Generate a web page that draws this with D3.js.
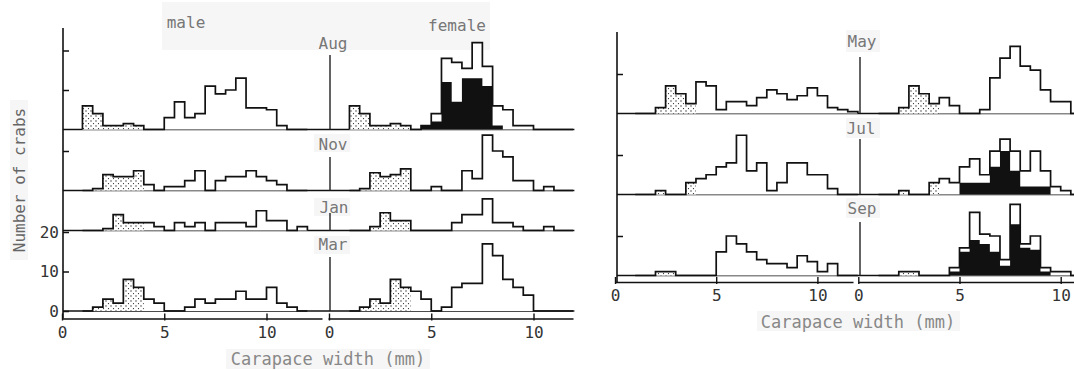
<!DOCTYPE html>
<html>
<head>
<meta charset="utf-8">
<script src="https://cdn.jsdelivr.net/npm/d3@7"></script>
<style>
  body { margin: 0; background: #fff; }
  svg { display: block; }
  text { font-family: "DejaVu Sans Mono", "Liberation Mono", monospace; }
</style>
</head>
<body>
<svg id="chart" width="1074" height="370"></svg>
<script>
// Size classes: 0.5 mm carapace-width classes, the first one 1.0-1.5 mm
const binStart = 1.0;
const binWidth = 0.5;

const xTicks = [0, 5, 10];
const yTicks = [0, 10, 20];
const sexes = ["male", "female"];
const leftMonths = ["Aug", "Nov", "Jan", "Mar"];
const rightMonths = ["May", "Jul", "Sep"];

// Number of crabs per class: all crabs, stippled part, solid black part
const augMale        = [6,4,1,1,1.5,1, 0,0, 3,7,3,4,11,9,10,13,5.5,5.5,5,1, 0,0];
const augMaleDots    = [6,4,1,1,1.5,1, 0,0, 0,0,0,0,0,0,0,0,0,0,0,0, 0,0];
const augFemale      = [6,4,1,1,1.5,1, 0,1, 4,18,17,15.5,22,16,6,5,1,1,0,0, 0,0];
const augFemaleDots  = [6,4,1,1,1.5,1, 0,0, 0,0,0,0,0,0,0,0,0,0,0,0, 0,0];
const augFemaleBlack = [0,0,0,0,0,0, 0,1, 2,12,7,13,13,11,1,0,0,0,0,0, 0,0];

const novMale        = [0,0.5,4,3.5,3.5,5, 1.5,0, 1,1,2.5,5,0,2.5,3.5,3.5,5,3.5,2.5,1.5, 0,0];
const novMaleDots    = [0,0.5,4,3.5,3.5,5, 0,0, 0,0,0,0,0,0,0,0,0,0,0,0, 0,0];
const novFemale      = [0,0.5,4.5,3.5,4,5.5, 0,0, 1,0,0,5,3,14,10,8.5,2.5,2.5,0,1, 0,0];
const novFemaleDots  = [0,0.5,4.5,3.5,4,5.5, 0,0, 0,0,0,0,0,0,0,0,0,0,0,0, 0,0];

const janMale        = [0,0,0.5,4,2,2, 2,1, 0,2,1,2,0,2,2,2,1,5,2.5,2.5, 0,1];
const janMaleDots    = [0,0,0.5,4,2,2, 0,0, 0,0,0,0,0,0,0,0,0,0,0,0, 0,0];
const janFemale      = [0,0,1,4.5,2.5,2.5, 0,0, 0,0,2,4,4,8,2,2,1,0,0,1, 0,0];
const janFemaleDots  = [0,0,1,4.5,2.5,2.5, 0,0, 0,0,0,0,0,0,0,0,0,0,0,0, 0,0];

const marMale        = [0,1,3,2,8,6, 3,2, 0,0,1,3,2,3,3,5,3,3,6,2, 1,0];
const marMaleDots    = [0,1,3,2,8,6, 0,0, 0,0,0,0,0,0,0,0,0,0,0,0, 0,0];
const marFemale      = [0,1,3,2,8,6, 5,3, 0,1,6,7,7,17,14,8,6,4,0,0, 0,0];
const marFemaleDots  = [0,1,3,2,8,6, 0,0, 0,0,0,0,0,0,0,0,0,0,0,0, 0,0];

const mayMale        = [0,0,1.5,7,5,2.5, 8,7, 1,3,3,2,4,6,5,3.5,4.5,6.5,4.5,1.5, 1,0.5];
const mayMaleDots    = [0,0,1.5,7,5,2.5, 0,0, 0,0,0,0,0,0,0,0,0,0,0,0, 0,0];
const mayFemale      = [0,0,1.5,7,5,2.5, 4,2, 0,0,1,9,14,17,12,11,6,3,3,0, 0,0];
const mayFemaleDots  = [0,0,1.5,7,5,2.5, 0,0, 0,0,0,0,0,0,0,0,0,0,0,0, 0,0];

const julMale        = [0,0,1,0,0,3, 4,5, 7,8,15,6,8,1,3,8,8,5,5,1.5, 0,0];
const julMaleDots    = [0,0,1,0,0,3, 0,0, 0,0,0,0,0,0,0,0,0,0,0,0, 0,0];
const julFemale      = [0,0,1,0,0,3, 4,3, 7,9,5,11,14,11,6,11,6,2,1,0, 0,0];
const julFemaleDots  = [0,0,1,0,0,3, 0,0, 0,0,0,0,0,0,0,0,0,0,0,0, 0,0];
const julFemaleBlack = [0,0,0,0,0,0, 0,0, 3,3,3,7,11,6,2,2,2,0,0,0, 0,0];

const sepMale        = [0,0,1,1,0,0, 0,0, 6,10,8,6,4,3,3,2,5,3.5,1,3, 0,0];
const sepMaleDots    = [0,0,1,1,0,0, 0,0, 0,0,0,0,0,0,0,0,0,0,0,0, 0,0];
const sepFemale      = [0,0,1,1,0,0, 0,2, 7,16,10.5,10,4,18,8,10,2,1,1,0, 0,0];
const sepFemaleDots  = [0,0,1,1,0,0, 0,0, 0,0,0,0,0,0,0,0,0,0,0,0, 0,0];
const sepFemaleBlack = [0,0,0,0,0,0, 0,1, 6,9,8,6,2.5,13,7,6.5,1,0,0,0, 0,0];

const svg = d3.select("#chart");

// stipple fill
const defs = svg.append("defs");
const pat = defs.append("pattern")
  .attr("id", "stipple").attr("patternUnits", "userSpaceOnUse")
  .attr("width", 5).attr("height", 5);
pat.append("rect").attr("width", 5).attr("height", 5).attr("fill", "#fff");
pat.append("circle").attr("cx", 1).attr("cy", 1).attr("r", 0.65).attr("fill", "#222");
pat.append("circle").attr("cx", 3.5).attr("cy", 3.6).attr("r", 0.6).attr("fill", "#222");

// faint paste-up patches behind the lettering
const patches = [
  [162, 2, 328, 48], [314, 134, 36, 18], [314, 198, 36, 18], [314, 236, 36, 18],
  [846, 30, 34, 22], [846, 118, 34, 20], [846, 198, 34, 20],
  [226, 349, 204, 20], [757, 311, 203, 20], [10, 100, 18, 160]
];
svg.append("g").selectAll("rect").data(patches).join("rect")
  .attr("x", d => d[0]).attr("y", d => d[1]).attr("width", d => d[2]).attr("height", d => d[3])
  .attr("fill", "#f6f6f6");

const pxPerCrab = 3.95;

// x scales (mm) for the two panels, male and female halves
const leftX = {
  male: d3.scaleLinear().domain([0, 10]).range([62, 266.5]),
  female: d3.scaleLinear().domain([0, 10]).range([329, 533.5])
};
const rightX = {
  male: d3.scaleLinear().domain([0, 10]).range([615, 817.4]),
  female: d3.scaleLinear().domain([0, 10]).range([858.3, 1060.7])
};

const rowY = base => d3.scaleLinear().domain([0, 10]).range([base, base - 10 * pxPerCrab]);

const leftRows = [
  { month: leftMonths[0], base: 129.5, series: [[augMale, augMaleDots, null], [augFemale, augFemaleDots, augFemaleBlack]], ticks: [10, 20], div: [55, 129.5], label: [333, 43] },
  { month: leftMonths[1], base: 190.5, series: [[novMale, novMaleDots, null], [novFemale, novFemaleDots, null]], ticks: [10], div: [157, 190.5], label: [333, 144] },
  { month: leftMonths[2], base: 230.5, series: [[janMale, janMaleDots, null], [janFemale, janFemaleDots, null]], ticks: [], div: [213, 230.5], label: [334, 207] },
  { month: leftMonths[3], base: 311, series: [[marMale, marMaleDots, null], [marFemale, marFemaleDots, null]], ticks: yTicks, div: [257, 311], label: [333, 244], labelled: true }
];
const rightRows = [
  { month: rightMonths[0], base: 113.5, series: [[mayMale, mayMaleDots, null], [mayFemale, mayFemaleDots, null]], ticks: [10], div: [57, 113.5], label: [862, 41] },
  { month: rightMonths[1], base: 194.5, series: [[julMale, julMaleDots, null], [julFemale, julFemaleDots, julFemaleBlack]], ticks: [10], div: [139, 194.5], label: [861, 128] },
  { month: rightMonths[2], base: 275.5, series: [[sepMale, sepMaleDots, null], [sepFemale, sepFemaleDots, sepFemaleBlack]], ticks: [10], div: [222, 275.5], label: [862, 208] }
];

const edge = i => binStart + i * binWidth;
function stepPoints(vals) {
  const pts = [{ e: edge(0), v: 0 }];
  vals.forEach((v, i) => pts.push({ e: edge(i), v }));
  pts.push({ e: edge(vals.length), v: 0 });
  return pts;
}

function drawHist(g, x, y, total, dots, black) {
  const area = d3.area().curve(d3.curveStepAfter)
    .x(d => x(d.e)).y0(y(0)).y1(d => y(d.v));
  const line = d3.line().curve(d3.curveStepAfter)
    .x(d => x(d.e)).y(d => y(d.v));
  g.append("path").attr("d", area(stepPoints(total))).attr("fill", "#fff");
  if (dots) g.append("path").attr("d", area(stepPoints(dots))).attr("fill", "url(#stipple)");
  if (black) g.append("path").attr("d", area(stepPoints(black))).attr("fill", "#111");
  g.append("path").attr("d", line(stepPoints(total)))
    .attr("fill", "none").attr("stroke", "#111").attr("stroke-width", 1.7)
    .attr("stroke-linejoin", "miter");
}

function drawPanel(rows, X, yAxisX, yAxisTop, xAxisY, xAxisEnds, baseEnds, divX, tickPad) {
  const g = svg.append("g");
  rows.forEach(r => {
    const y = rowY(r.base);
    // baseline of the row
    g.append("line").attr("x1", baseEnds[0]).attr("x2", baseEnds[1])
      .attr("y1", r.base).attr("y2", r.base).attr("stroke", "#111").attr("stroke-width", 1.6);
    sexes.forEach((s, k) => {
      const [tot, dots, black] = r.series[k];
      drawHist(g.append("g"), X[s], y, tot, dots, black);
    });
    // male / female divider
    g.append("line").attr("x1", divX).attr("x2", divX).attr("y1", r.div[0]).attr("y2", r.div[1])
      .attr("stroke", "#222").attr("stroke-width", 1.4);
    g.append("text").attr("x", r.label[0]).attr("y", r.label[1]).attr("dy", "0.35em")
      .attr("text-anchor", "middle").attr("font-size", 16).attr("fill", "#777").text(r.month);
    // y ticks
    const ax = g.append("g").attr("transform", `translate(${yAxisX},0)`)
      .call(d3.axisLeft(y).tickValues(r.ticks).tickSize(-6).tickPadding(4)
        .tickFormat(r.labelled ? d3.format("d") : () => ""));
    ax.select(".domain").remove();
    ax.selectAll("line").attr("stroke", "#111").attr("stroke-width", 1.5);
    ax.selectAll("text").attr("font-size", 16).attr("fill", "#333").attr("font-family", "DejaVu Sans Mono");
  });
  // y axis line
  g.append("line").attr("x1", yAxisX).attr("x2", yAxisX).attr("y1", yAxisTop).attr("y2", xAxisY)
    .attr("stroke", "#111").attr("stroke-width", 1.6);
  // x axes
  sexes.forEach((s, k) => {
    const [a, b] = xAxisEnds[k];
    const sc = X[s].copy().domain([X[s].invert(a), X[s].invert(b)]).range([a, b]);
    const ax = g.append("g").attr("transform", `translate(0,${xAxisY})`)
      .call(d3.axisBottom(sc).tickValues(xTicks).tickSizeInner(-5).tickSizeOuter(0).tickPadding(tickPad));
    ax.select(".domain").attr("stroke", "#111").attr("stroke-width", 1.6);
    ax.selectAll(".tick line").attr("stroke", "#111").attr("stroke-width", 1.4).attr("y2", -5).attr("y1", 2);
    ax.selectAll("text").attr("font-size", 16).attr("fill", "#333").attr("font-family", "DejaVu Sans Mono");
  });
}

drawPanel(leftRows, leftX, 63, 28, 318.5, [[62, 322], [328, 573]], [63, 573], 330, 8);
drawPanel(rightRows, rightX, 617, 32, 282, [[615, 853], [858, 1074]], [617, 1074], 860, 8);

// sex headings
svg.append("text").attr("x", 186).attr("y", 22).attr("dy", "0.35em").attr("text-anchor", "middle")
  .attr("font-size", 16).attr("fill", "#777").text(sexes[0]);
svg.append("text").attr("x", 457).attr("y", 25).attr("dy", "0.35em").attr("text-anchor", "middle")
  .attr("font-size", 16).attr("fill", "#777").text(sexes[1]);

// axis titles
svg.append("text").attr("x", 328).attr("y", 359).attr("dy", "0.35em").attr("text-anchor", "middle")
  .attr("font-size", 17).attr("fill", "#888").text("Carapace width (mm)");
svg.append("text").attr("x", 858).attr("y", 322).attr("dy", "0.35em").attr("text-anchor", "middle")
  .attr("font-size", 17).attr("fill", "#888").text("Carapace width (mm)");
svg.append("text").attr("transform", "translate(19,180) rotate(-90)").attr("dy", "0.35em")
  .attr("text-anchor", "middle").attr("font-size", 16).attr("fill", "#666").text("Number of crabs");
</script>
</body>
</html>
